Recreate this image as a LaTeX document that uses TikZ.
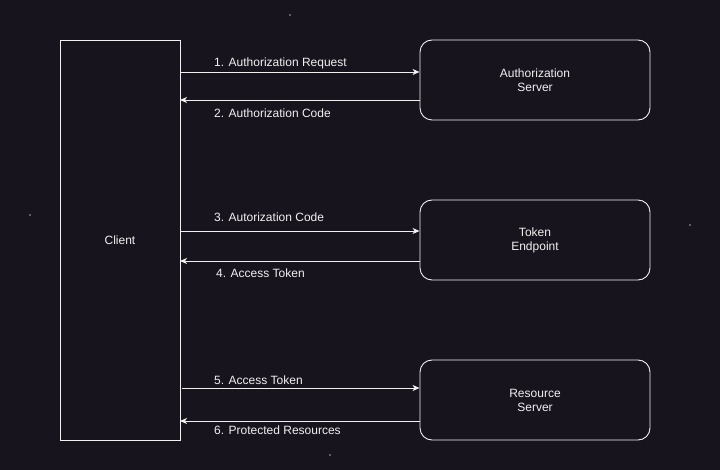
\documentclass[tikz,border=0pt]{standalone}
\usepackage{fontspec}
\setmainfont{Liberation Sans}
\usetikzlibrary{arrows.meta}
\definecolor{bg}{HTML}{18141D}
\definecolor{fg}{HTML}{F0F0F0}
\begin{document}
\begin{tikzpicture}[x=1pt,y=-1pt,
  every node/.style={text=fg,font=\fontsize{12}{14}\selectfont},
  box/.style={draw=fg,line width=0.9pt,fill=bg,inner sep=0pt},
  srv/.style={box,rounded corners=12pt,minimum width=230pt,minimum height=80pt,align=center},
  msg/.style={draw=fg,line width=0.9pt,-{Stealth[length=7pt,width=6pt,inset=2pt]}},
  lbl/.style={anchor=west,inner sep=0pt},
  dot/.style={fill=gray!70,draw=none}]
\fill[bg] (0,0) rectangle (720,470);
\useasboundingbox (0,0) rectangle (720,470);
\fill[dot] (290,15) circle (0.8);
\fill[dot] (30,215) circle (0.8);
\fill[dot] (690,225) circle (0.8);
\fill[dot] (330,455) circle (0.8);
\node[box,minimum width=120pt,minimum height=400pt] (client) at (120,240) {Client};
\node[srv] (auth) at (535,80) {Authorization\\Server};
\node[srv] (tok) at (535,240) {Token\\Endpoint};
\node[srv] (res) at (535,400) {Resource\\Server};
\coordinate (c1) at (180,72); \coordinate (c2) at (180,100);
\coordinate (c3) at (180,231); \coordinate (c4) at (180,261);
\coordinate (c5) at (182,388); \coordinate (c6) at (180,421);
\draw[msg] (c1) -- (c1 -| auth.west);
\draw[msg] (c2 -| auth.west) -- (c2);
\draw[msg] (c3) -- (c3 -| tok.west);
\draw[msg] (c4 -| tok.west) -- (c4);
\draw[msg] (c5) -- (c5 -| res.west);
\draw[msg] (c6 -| res.west) -- (c6);
\node[lbl] (l1) at (214,63) {1. Authorization Request};
\node[lbl] (l2) at (214,113) {2. Authorization Code};
\node[lbl] (l3) at (214,217) {3. Autorization Code};
\node[lbl] (l4) at (216,273) {4. Access Token};
\node[lbl] (l5) at (214,380) {5. Access Token};
\node[lbl] (l6) at (214,430) {6. Protected Resources};
\end{tikzpicture}
\end{document}
